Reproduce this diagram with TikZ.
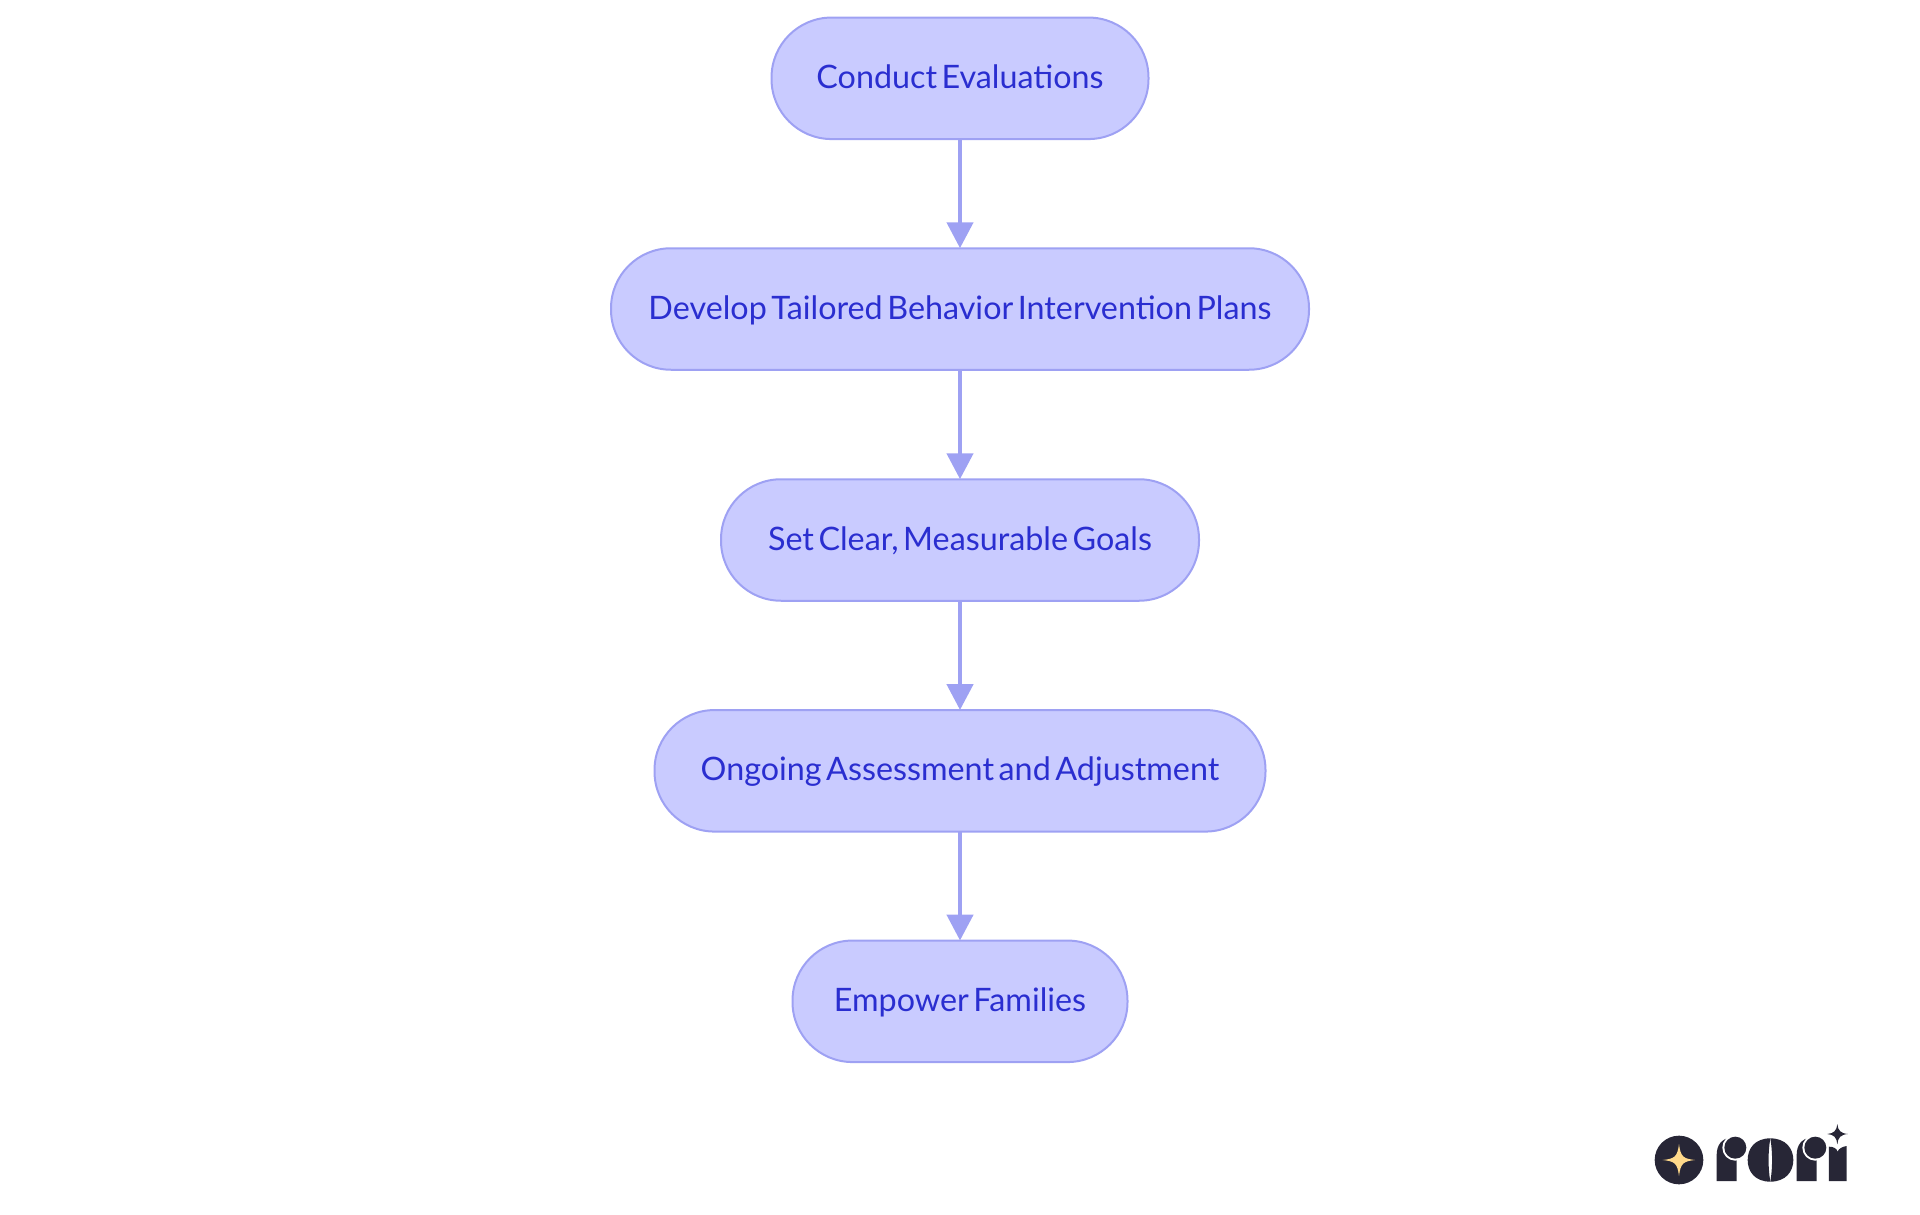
\documentclass[tikz,border=0pt]{standalone}
\usepackage{fontspec}
\setmainfont[WordSpace=0.55]{Lato}
\usetikzlibrary{arrows.meta}
\definecolor{boxfill}{HTML}{C9CBFF}
\definecolor{boxline}{HTML}{9EA1F3}
\definecolor{boxtext}{HTML}{2A2ED0}
\definecolor{logodark}{HTML}{272636}
\definecolor{logogold}{HTML}{FFD98A}
\tikzset{
  flowbox/.style={draw=boxline,fill=boxfill,line width=2pt,rounded corners=60pt,minimum height=121.5pt,outer sep=0pt,inner sep=0pt,text=boxtext,text height=27pt,text depth=7pt,font=\fontsize{32.3}{38}\selectfont},
  flowarrow/.style={draw=boxline,line width=4.6pt,-{Triangle[length=26pt,width=26pt,fill=boxline]}}
}
\begin{document}
\begin{tikzpicture}[x=1pt,y=-1pt]
\useasboundingbox (0,0) rectangle (1920,1215);
\node[flowbox,minimum width=377pt] (a) at (960,78.3) {Conduct Evaluations};
\node[flowbox,minimum width=698pt] (b) at (960,309) {Develop Tailored Behavior Intervention Plans};
\node[flowbox,minimum width=478pt] (c) at (960,540) {Set Clear, Measurable Goals};
\node[flowbox,minimum width=611pt] (d) at (960,770.8) {Ongoing Assessment and Adjustment};
\node[flowbox,minimum width=335pt] (e) at (960,1001.3) {Empower Families};
\draw[flowarrow] (a) -- (b);
\draw[flowarrow] (b) -- (c);
\draw[flowarrow] (c) -- (d);
\draw[flowarrow] (d) -- (e);
% logo, in zoom coordinates
\begin{scope}[shift={(1620,1100)},x=0.3333pt,y=-0.3333pt]
\fill[logodark] (177,180) circle (73);
\fill[logogold] (128,180) .. controls (165,176) and (172,170) .. (177,132) .. controls (182,170) and (189,176) .. (225,180) .. controls (189,184) and (182,190) .. (177,228) .. controls (172,190) and (165,184) .. (128,180) -- cycle;
% first r
\fill[logodark] (290,243) -- (290,165) .. controls (290,135) and (305,115) .. (335,112) -- (350,112) -- (350,243) -- cycle;
\fill[white] (346,143) circle (39);
\fill[logodark] (346,143) circle (33);
% o
\fill[logodark] (451,115) .. controls (405,115) and (383,145) .. (383,180) .. controls (383,215) and (405,245) .. (451,245) .. controls (444,205) and (444,155) .. (451,115) -- cycle;
\fill[logodark] (451,115) .. controls (497,115) and (520,145) .. (520,180) .. controls (520,215) and (497,245) .. (451,245) .. controls (458,205) and (458,155) .. (451,115) -- cycle;
% second r
\fill[logodark] (530,243) -- (530,165) .. controls (530,135) and (545,115) .. (575,112) -- (590,112) -- (590,243) -- cycle;
\fill[white] (586,143) circle (39);
\fill[logodark] (586,143) circle (33);
% i
\fill[logodark] (627,243) -- (627,140) .. controls (640,140) and (650,145) .. (653,155) .. controls (656,145) and (668,140) .. (680,138) -- (680,243) -- cycle;
\fill[logodark] (622,102) .. controls (642,100) and (650,92) .. (652,72) .. controls (654,92) and (662,100) .. (684,102) .. controls (662,104) and (654,112) .. (652,133) .. controls (650,112) and (642,104) .. (622,102) -- cycle;
\end{scope}
\end{tikzpicture}
\end{document}
